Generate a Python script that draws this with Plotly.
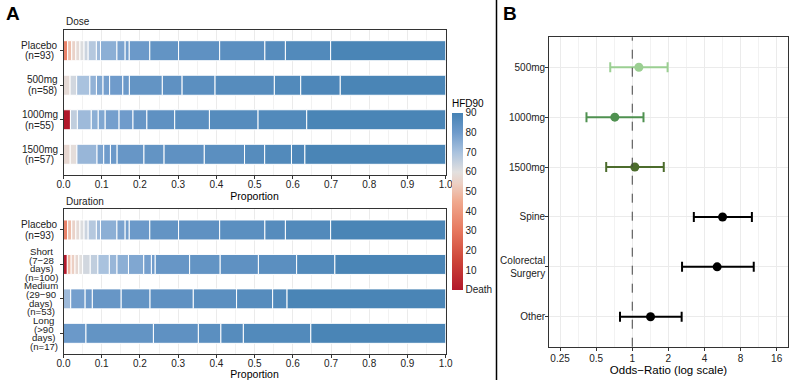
import plotly.graph_objects as go

FONT = "Liberation Sans, Arial, Helvetica, sans-serif"
W, H = 800, 380

# ---------------- Panel A data (counts of patients per HFD90 value, sorted) ----------------
dose_keys = ["Placebo", "500mg", "1000mg", "1500mg"]
dose_labels = [["Placebo", "(n=93)"], ["500mg", "(n=58)"], ["1000mg", "(n=55)"], ["1500mg", "(n=57)"]]
dose_n = [93, 58, 55, 57]

placebo_counts = [1, 1, 1, 1, 1, 1, 2, 1, 4, 2, 1, 5, 7, 10, 11, 5, 11, 28]
placebo_hfd = [33, 50, 55, 58, 61, 64, 68, 72, 75, 78, 79, 81, 83, 84, 85, 86, 87, 89]

mg500_counts = [1, 1, 2, 1, 1, 1, 2, 1, 5, 3, 5, 9, 4, 6, 16]
mg500_hfd = [58, 63, 70, 74, 77, 79, 80, 81, 83, 84, 85, 86, 87, 88, 89]

mg1000_counts = [1, 1, 2, 1, 1, 2, 2, 2, 4, 5, 7, 7, 20]
mg1000_hfd = [0, 66, 72, 75, 77, 79, 80, 82, 84, 85, 86, 87, 89]

mg1500_counts = [1, 1, 3, 1, 1, 1, 4, 3, 6, 6, 3, 4, 2, 21]
mg1500_hfd = [57, 59, 73, 78, 80, 81, 82, 83, 84, 85, 86, 87, 88, 89]

dur_keys = ["Placebo", "Short", "Medium", "Long"]
dur_labels = [["Placebo", "(n=93)"], ["Short", "(7\u221228", "days)", "(n=100)"],
              ["Medium", "(29\u221290", "days)", "(n=53)"], ["Long", "(>90", "days)", "(n=17)"]]
dur_n = [93, 100, 53, 17]

short_counts = [1, 1, 1, 1, 1, 2, 2, 3, 2, 3, 4, 2, 1, 9, 8, 10, 10, 10, 29]
short_hfd = [0, 48, 54, 57, 60, 63, 66, 70, 73, 75, 77, 79, 80, 82, 83, 84, 85, 87, 89]

medium_counts = [1, 2, 1, 4, 4, 6, 6, 5, 2, 22]
medium_hfd = [72, 79, 80, 82, 83, 84, 85, 86, 87, 89]

long_counts = [1, 3, 2, 1, 1, 3, 6]
long_hfd = [81, 83, 84, 85, 86, 87, 89]

x_ticks = [0.0, 0.1, 0.2, 0.3, 0.4, 0.5, 0.6, 0.7, 0.8, 0.9, 1.0]
cbar_vals = [0, 10, 20, 30, 40, 50, 60, 70, 80, 90]
cbar_text = ["Death", "10", "20", "30", "40", "50", "60", "70", "80", "90"]

# ---------------- Panel B data ----------------
or_labels = ["500mg", "1000mg", "1500mg", "Spine", "Colorectal<br>Surgery", "Other"]
or_est = [1.135, 0.715, 1.05, 5.66, 5.10, 1.42]
or_low = [0.655, 0.415, 0.606, 3.26, 2.60, 0.79]
or_high = [1.97, 1.24, 1.83, 9.94, 10.3, 2.58]
or_colors = ["#9BCF92", "#4F9150", "#4C6C2C", "#000000", "#000000", "#000000"]
or_ticks = [0.25, 0.5, 1, 2, 4, 8, 16]
or_minor = [0.3536, 0.7071, 1.4142, 2.8284, 5.6569, 11.3137]

# ---------------- figure ----------------
fig = go.Figure()


def add_stack(keys, n_list, counts_list, hfd_list, xa, ya):
    ys, xs, bases, cols = [], [], [], []
    for key, n, counts, vals in zip(keys, n_list, counts_list, hfd_list):
        start = 0
        for c, v in zip(counts, vals):
            ys.append(key)
            xs.append(c / n)
            bases.append(start / n)
            cols.append(v)
            start += c
    fig.add_trace(go.Bar(
        orientation="h", y=ys, x=xs, base=bases, width=0.58,
        marker=dict(color=cols, coloraxis="coloraxis", line=dict(color="white", width=1)),
        xaxis=xa, yaxis=ya, showlegend=False, hoverinfo="skip"))


add_stack(dose_keys, dose_n, [placebo_counts, mg500_counts, mg1000_counts, mg1500_counts],
          [placebo_hfd, mg500_hfd, mg1000_hfd, mg1500_hfd], "x", "y")
add_stack(dur_keys, dur_n, [placebo_counts, short_counts, medium_counts, long_counts],
          [placebo_hfd, short_hfd, medium_hfd, long_hfd], "x2", "y2")

for lab, est, lo, hi, col in zip(or_labels, or_est, or_low, or_high, or_colors):
    fig.add_trace(go.Scatter(
        x=[est], y=[lab], mode="markers",
        marker=dict(color=col, size=9),
        error_x=dict(type="data", symmetric=False, array=[hi - est], arrayminus=[est - lo],
                     color=col, thickness=2, width=5),
        xaxis="x3", yaxis="y3", showlegend=False, hoverinfo="skip"))

# geometry (pixels)
A_L, A_R = 63.5, 445.7
A1_T, A1_B = 30, 175
A2_T, A2_B = 209.3, 354
B_L, B_R, B_T, B_B = 549.3, 787.7, 37.3, 346.7

TXT = "#222222"
tickfont = dict(family=FONT, size=10, color=TXT)
titlefont = dict(family=FONT, size=10.5, color="#000000")

ax_common = dict(showline=True, linecolor="#333333", linewidth=1, mirror=True,
                 ticks="outside", ticklen=3, tickcolor="#333333", zeroline=False,
                 gridcolor="#EBEBEB", gridwidth=1)

xA = dict(ax_common, range=[0, 1], tickvals=x_ticks, ticktext=[f"{v:.1f}" for v in x_ticks],
          tickfont=tickfont, ticklabelstandoff=-3,
          minor=dict(dtick=0.05, tick0=0, showgrid=True, gridcolor="#F2F2F2", ticks=""),
          title=dict(text="Proportion", font=titlefont, standoff=0))

fig.update_layout(
    width=W, height=H, paper_bgcolor="white", plot_bgcolor="white",
    margin=dict(l=0, r=0, t=0, b=0, autoexpand=False),
    font=dict(family=FONT, color="#000000"),
    barmode="overlay",
    xaxis=dict(xA, domain=[A_L / W, A_R / W], anchor="y"),
    yaxis=dict(ax_common, domain=[1 - A1_B / H, 1 - A1_T / H], anchor="x", type="category",
               categoryorder="array", categoryarray=dose_keys, range=[3.6, -0.6],
               showticklabels=False),
    xaxis2=dict(xA, domain=[A_L / W, A_R / W], anchor="y2"),
    yaxis2=dict(ax_common, domain=[1 - A2_B / H, 1 - A2_T / H], anchor="x2", type="category",
                categoryorder="array", categoryarray=dur_keys, range=[3.6, -0.6],
                showticklabels=False),
    xaxis3=dict(ax_common, domain=[B_L / W, B_R / W], anchor="y3", type="log",
                range=[-0.692, 1.296], tickvals=or_ticks, ticktext=[str(v) for v in or_ticks],
                tickfont=dict(family=FONT, size=10, color=TXT), ticklabelstandoff=-1,
                minor=dict(tickvals=or_minor, showgrid=True, gridcolor="#F2F2F2", ticks=""),
                linewidth=1.3,
                title=dict(text="Odds\u2212Ratio (log scale)", font=dict(family=FONT, size=11.5, color="#000000"), standoff=0)),
    yaxis3=dict(ax_common, domain=[1 - B_B / H, 1 - B_T / H], anchor="x3", type="category",
                categoryorder="array", categoryarray=or_labels, range=[5.6, -0.6],
                tickfont=dict(family=FONT, size=10, color=TXT), ticklabelstandoff=-2, linewidth=1.3),
    coloraxis=dict(
        cmin=0, cmax=90,
        colorscale=[[0.0, "#B2182B"], [0.167, "#CD4539"], [0.333, "#E6775E"], [0.5, "#F0A98E"],
                    [0.6, "#ECCFC3"], [0.667, "#E2E0DF"], [0.778, "#A9C2DE"], [0.889, "#6F9BCB"],
                    [1.0, "#4682B4"]],
        colorbar=dict(x=452 / W, xanchor="left", y=1 - 193.4 / H, yanchor="middle",
                      len=193, lenmode="pixels", thickness=11, outlinewidth=0,
                      xpad=0, ypad=0, tickvals=cbar_vals, ticktext=cbar_text, ticks="",
                      tickfont=dict(family=FONT, size=10, color=TXT),
                      title=dict(text="HFD90", side="top", font=dict(family=FONT, size=10, color="#000000"))),
    ),
)

# dashed reference line at OR = 1
fig.add_shape(type="line", xref="x3", yref="y3 domain", x0=1, x1=1, y0=0, y1=1,
              line=dict(color="#444444", width=1, dash="dash"))

# divider between panels
fig.add_shape(type="line", xref="paper", yref="paper", x0=496.5 / W, x1=496.5 / W, y0=0, y1=1,
              line=dict(color="#000000", width=1.5))

# ---------- text ----------
CW = {'P': 667, 'l': 222, 'a': 556, 'c': 500, 'e': 556, 'b': 556, 'o': 556, '(': 333, ')': 333,
      'n': 556, '=': 584, 'm': 833, 'g': 556, 'S': 667, 'h': 556, 'r': 333, 't': 278, '\u2212': 584,
      'd': 556, 'y': 500, 's': 500, 'M': 833, 'i': 222, 'u': 556, 'L': 556, '>': 584, ' ': 278}


def tw(s, size):
    return sum(CW.get(ch, 556) for ch in s) / 1000 * size


def add_ylabels(keys, labels, yref):
    for key, lines in zip(keys, labels):
        fs = 10 if len(lines) <= 2 else 9.6
        bw = max(tw(l, fs) for l in lines)
        cx = A_L - 5.5 - bw / 2
        sp = 10.5 if len(lines) <= 2 else 8.6
        for i, line in enumerate(lines):
            fig.add_annotation(text=line, xref="paper", x=cx / W, xanchor="center",
                               yref=yref, y=key, yanchor="middle",
                               yshift=((len(lines) - 1) / 2 - i) * sp, showarrow=False,
                               font=dict(family=FONT, size=fs, color=TXT), borderpad=0)


add_ylabels(dose_keys, dose_labels, "y")
add_ylabels(dur_keys, dur_labels, "y2")

fig.add_annotation(text="Dose", xref="paper", yref="paper", x=A_L / W, y=1 - 22 / H,
                   xanchor="left", yanchor="middle", showarrow=False,
                   font=dict(family=FONT, size=10, color="#1a1a1a"))
fig.add_annotation(text="Duration", xref="paper", yref="paper", x=A_L / W, y=1 - 201 / H,
                   xanchor="left", yanchor="middle", showarrow=False,
                   font=dict(family=FONT, size=10, color="#1a1a1a"))
fig.add_annotation(text="<b>A</b>", xref="paper", yref="paper", x=4 / W, y=1 - 1 / H,
                   xanchor="left", yanchor="top", showarrow=False,
                   font=dict(family=FONT, size=19, color="#000000"))
fig.add_annotation(text="<b>B</b>", xref="paper", yref="paper", x=501 / W, y=1 - 1 / H,
                   xanchor="left", yanchor="top", showarrow=False,
                   font=dict(family=FONT, size=19, color="#000000"))

fig.write_html("out.html", config={"displayModeBar": False},
               post_script="document.body.style.margin='0';")
